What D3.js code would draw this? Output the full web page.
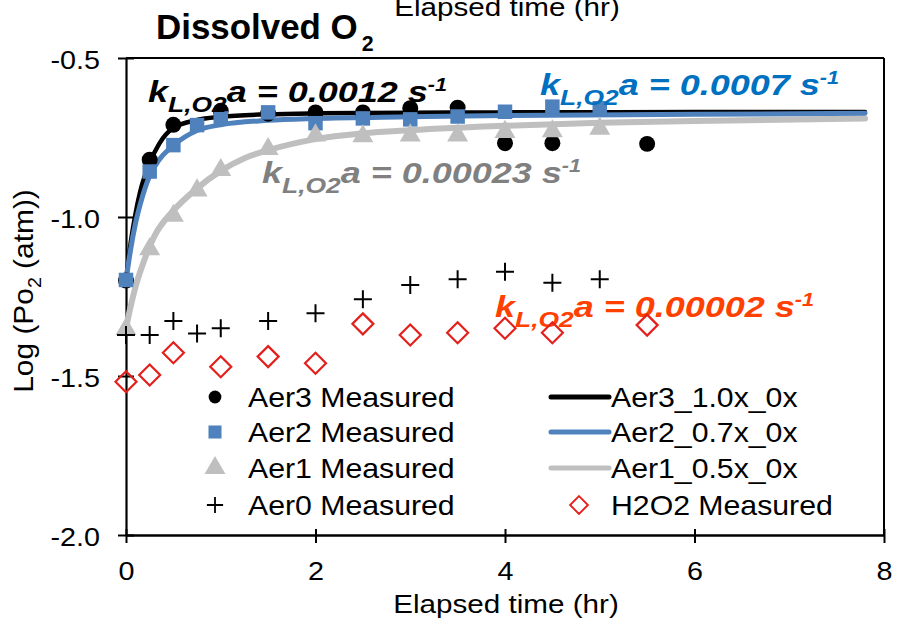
<!DOCTYPE html>
<html><head><meta charset="utf-8">
<script src="https://cdn.jsdelivr.net/npm/d3@7"></script>
<style>
html,body{margin:0;padding:0;background:#fff;}
text{font-family:"Liberation Sans",Arial,sans-serif;}
</style></head>
<body><svg id="chart" width="905" height="627"></svg>
<script>
// ---------- data ----------
const xTicks = [0, 2, 4, 6, 8];
const yTicks = [-2.0, -1.5, -1.0, -0.5];

const aer3Time = [0, 0.25, 0.5, 1, 1.5, 2, 2.5, 3, 3.5, 4, 4.5, 5.5];
const aer3Vals = [-1.2, -0.82, -0.71, -0.666, -0.675, -0.671, -0.671, -0.658, -0.656, -0.768, -0.768, -0.77];

const aer2Time = [0, 0.25, 0.5, 0.75, 1, 1.5, 2, 2.5, 3, 3.5, 4, 4.5, 5];
const aer2Vals = [-1.198, -0.857, -0.774, -0.711, -0.69, -0.671, -0.705, -0.69, -0.693, -0.684, -0.669, -0.653, -0.658];

const aer1Time = [0, 0.25, 0.5, 0.75, 1, 1.5, 2, 2.5, 3, 3.5, 4, 4.5, 5];
const aer1Vals = [-1.346, -1.095, -0.99, -0.91, -0.846, -0.78, -0.737, -0.74, -0.737, -0.737, -0.726, -0.724, -0.716];

const aer0Time = [0, 0.25, 0.5, 0.75, 1, 1.5, 2, 2.5, 3, 3.5, 4, 4.5, 5];
const aer0Vals = [-1.371, -1.371, -1.327, -1.366, -1.35, -1.327, -1.303, -1.259, -1.214, -1.196, -1.172, -1.207, -1.196];

const h2o2Time = [0, 0.25, 0.5, 1, 1.5, 2, 2.5, 3, 3.5, 4, 4.5, 5.5];
const h2o2Vals = [-1.518, -1.497, -1.427, -1.471, -1.439, -1.46, -1.336, -1.371, -1.364, -1.35, -1.364, -1.34];

// model curves
const fit3Time = [0, 0.05, 0.1, 0.15, 0.25, 0.35, 0.5, 0.75, 1, 1.5, 2, 3, 4, 6, 7.8];
const fit3Vals = [-1.2, -1.08, -0.99, -0.92, -0.83, -0.77, -0.72, -0.695, -0.685, -0.677, -0.674, -0.672, -0.671, -0.67, -0.67];
const fit2Time = [0, 0.05, 0.1, 0.15, 0.25, 0.35, 0.5, 0.75, 1, 1.5, 2, 3, 4, 6, 7.8];
const fit2Vals = [-1.2, -1.1, -1.02, -0.96, -0.87, -0.82, -0.775, -0.728, -0.71, -0.696, -0.69, -0.685, -0.681, -0.677, -0.674];
const fit1Time = [0, 0.05, 0.1, 0.2, 0.3, 0.5, 0.75, 1, 1.25, 1.5, 2, 2.5, 3, 4, 5, 6, 7.8];
const fit1Vals = [-1.35, -1.28, -1.22, -1.13, -1.06, -0.98, -0.91, -0.855, -0.815, -0.79, -0.755, -0.737, -0.727, -0.713, -0.704, -0.698, -0.69];

const klaValues = ["0.0012", "0.0007", "0.00023", "0.00002"];
const klaColors = ["#000000", "#0070C0", "#808080", "#FF4000"];

const legendLeft = ["Aer3 Measured", "Aer2 Measured", "Aer1 Measured", "Aer0 Measured"];
const legendRight = ["Aer3_1.0x_0x", "Aer2_0.7x_0x", "Aer1_0.5x_0x", "H2O2 Measured"];

// ---------- layout ----------
const svg = d3.select("#chart");
const x = d3.scaleLinear().domain([0, 8]).range([126, 884]);
const y = d3.scaleLinear().domain([-2, -0.5]).range([535, 58]);

const C_BLUE = "#4F81BD", C_GRAY = "#BFBFBF", C_RED = "#E3201B";

// frame (top + right)
svg.append("line").attr("x1", x(0)).attr("x2", x(8)).attr("y1", y(-0.5)).attr("y2", y(-0.5)).attr("stroke", "#000").attr("stroke-width", 2);
svg.append("line").attr("x1", x(8)).attr("x2", x(8)).attr("y1", y(-0.5)).attr("y2", y(-2)).attr("stroke", "#000").attr("stroke-width", 2);

// axes
const yAxis = svg.append("g").attr("transform", `translate(${x(0)},0)`)
  .call(d3.axisLeft(y).tickValues(yTicks).tickFormat(d => d.toFixed(1)).tickSizeOuter(0));
yAxis.select(".domain").attr("stroke-width", 2.2);
yAxis.selectAll(".tick line").attr("x1", 8).attr("x2", -8).attr("stroke-width", 2);
yAxis.selectAll(".tick text").attr("x", 0).attr("dy", 0)
  .attr("transform", "translate(-26,10) scale(1.15,1)")
  .style("font-size", "25px").style("font-family", "Liberation Sans, Arial").attr("fill", "#000");

const xAxis = svg.append("g").attr("transform", `translate(0,${y(-2)})`)
  .call(d3.axisBottom(x).tickValues(xTicks).tickFormat(d => String(d)).tickSizeOuter(0));
xAxis.select(".domain").attr("stroke-width", 2.5);
xAxis.selectAll(".tick line").attr("y1", -6).attr("y2", 8).attr("stroke-width", 2);
xAxis.selectAll(".tick text").attr("y", 0).attr("dy", 0)
  .attr("transform", "translate(0,45) scale(1.15,1)")
  .style("font-size", "25px").style("font-family", "Liberation Sans, Arial").attr("fill", "#000");

// axis titles
svg.append("text").attr("text-anchor", "middle")
  .attr("transform", "translate(506,613) scale(1.14,1)")
  .style("font-size", "26px").text("Elapsed time (hr)");
svg.append("text").attr("text-anchor", "middle")
  .attr("transform", "translate(507,16) scale(1.14,1)")
  .style("font-size", "26px").text("Elapsed time (hr)");

const yt = svg.append("text").attr("text-anchor", "middle")
  .attr("transform", "translate(33,291) rotate(-90) scale(1.15,1.08)")
  .style("font-size", "26px");
yt.append("tspan").text("Log (Po");
yt.append("tspan").attr("dy", 7).style("font-size", "17px").text("2");
yt.append("tspan").attr("dy", -7).text(" (atm))");

// title
const tt = svg.append("text").attr("transform", "translate(156,39) scale(0.97,1)")
  .style("font-size", "36px").style("font-weight", "bold");
tt.append("tspan").text("Dissolved O");
tt.append("tspan").attr("dy", 12).attr("dx", 4).style("font-size", "22px").text("2");

// fitted lines
const line = d3.line().x(d => x(d[0])).y(d => y(d[1])).curve(d3.curveMonotoneX);
const fits = [
  {t: fit1Time, v: fit1Vals, c: C_GRAY, w: 6},
  {t: fit3Time, v: fit3Vals, c: "#000", w: 4.5},
  {t: fit2Time, v: fit2Vals, c: C_BLUE, w: 5}
];
fits.forEach(f => {
  svg.append("path").datum(f.t.map((t, i) => [t, f.v[i]]))
    .attr("d", line).attr("fill", "none").attr("stroke", f.c).attr("stroke-width", f.w)
    .attr("stroke-linecap", "round").attr("stroke-linejoin", "round");
});

// markers
const pts = (t, v) => t.map((d, i) => [d, v[i]]);
const circlePath = d3.symbol().type(d3.symbolCircle).size(200)();
const squarePath = d3.symbol().type(d3.symbolSquare).size(210)();
const triPath = d3.symbol().type(d3.symbolTriangle).size(190)();
const plusPath = "M-9,0H9M0,-9V9";
const diamondPath = "M0,-10.5L10.5,0L0,10.5L-10.5,0Z";

function drawMarks(data, path, fill, stroke, sw, dy) {
  svg.append("g").selectAll("path").data(data).join("path")
    .attr("transform", d => `translate(${x(d[0])},${y(d[1]) + (dy || 0)})`)
    .attr("d", path).attr("fill", fill).attr("stroke", stroke).attr("stroke-width", sw);
}
drawMarks(pts(aer3Time, aer3Vals), circlePath, "#000", "none", 0);
drawMarks(pts(aer2Time, aer2Vals), squarePath, C_BLUE, "none", 0);
drawMarks(pts(aer1Time, aer1Vals), triPath, C_GRAY, "none", 0, 2);

// annotations
const klaPos = [[148, 101.7], [540, 95], [262, 183], [495, 316.7]];
klaValues.forEach((v, i) => {
  const t = svg.append("text").attr("transform", `translate(${klaPos[i][0]},${klaPos[i][1]}) scale(1.2,1)`)
    .attr("fill", klaColors[i]).style("font-size", "30px").style("font-weight", "bold").style("font-style", "italic");
  t.append("tspan").text("k");
  t.append("tspan").attr("dy", 10).style("font-size", "22px").text("L,O2");
  t.append("tspan").attr("dy", -10).text(`a = ${v} s`);
  t.append("tspan").attr("dy", -11).style("font-size", "18px").text("-1");
});

drawMarks(pts(aer0Time, aer0Vals), plusPath, "none", "#000", 2);
drawMarks(pts(h2o2Time, h2o2Vals), diamondPath, "none", C_RED, 2.2);

// legend
const rowY = [397, 432, 468, 505];
const lg = svg.append("g");
const leftSyms = [
  {p: circlePath, f: "#000", s: "none", w: 0, sc: 0.8},
  {p: squarePath, f: C_BLUE, s: "none", w: 0, sc: 0.9},
  {p: triPath, f: C_GRAY, s: "none", w: 0, sc: 1},
  {p: plusPath, f: "none", s: "#000", w: 2, sc: 0.9}
];
legendLeft.forEach((name, i) => {
  const s = leftSyms[i];
  lg.append("path").attr("d", s.p).attr("transform", `translate(215,${rowY[i]}) scale(${s.sc})`)
    .attr("fill", s.f).attr("stroke", s.s).attr("stroke-width", s.w);
  lg.append("text").attr("transform", `translate(248,${rowY[i] + 10}) scale(1.08,1)`)
    .style("font-size", "28px").text(name);
});
const rightCols = ["#000", C_BLUE, C_GRAY];
legendRight.forEach((name, i) => {
  if (i < 3) {
    lg.append("line").attr("x1", 551).attr("x2", 609).attr("y1", rowY[i]).attr("y2", rowY[i])
      .attr("stroke", rightCols[i]).attr("stroke-width", 5).attr("stroke-linecap", "round");
  } else {
    lg.append("path").attr("d", diamondPath).attr("transform", `translate(579,${rowY[i]}) scale(0.85)`)
      .attr("fill", "none").attr("stroke", C_RED).attr("stroke-width", 2.2);
  }
  lg.append("text").attr("transform", `translate(611,${rowY[i] + 10}) scale(1.08,1)`)
    .style("font-size", "28px").text(name);
});
</script></body></html>
